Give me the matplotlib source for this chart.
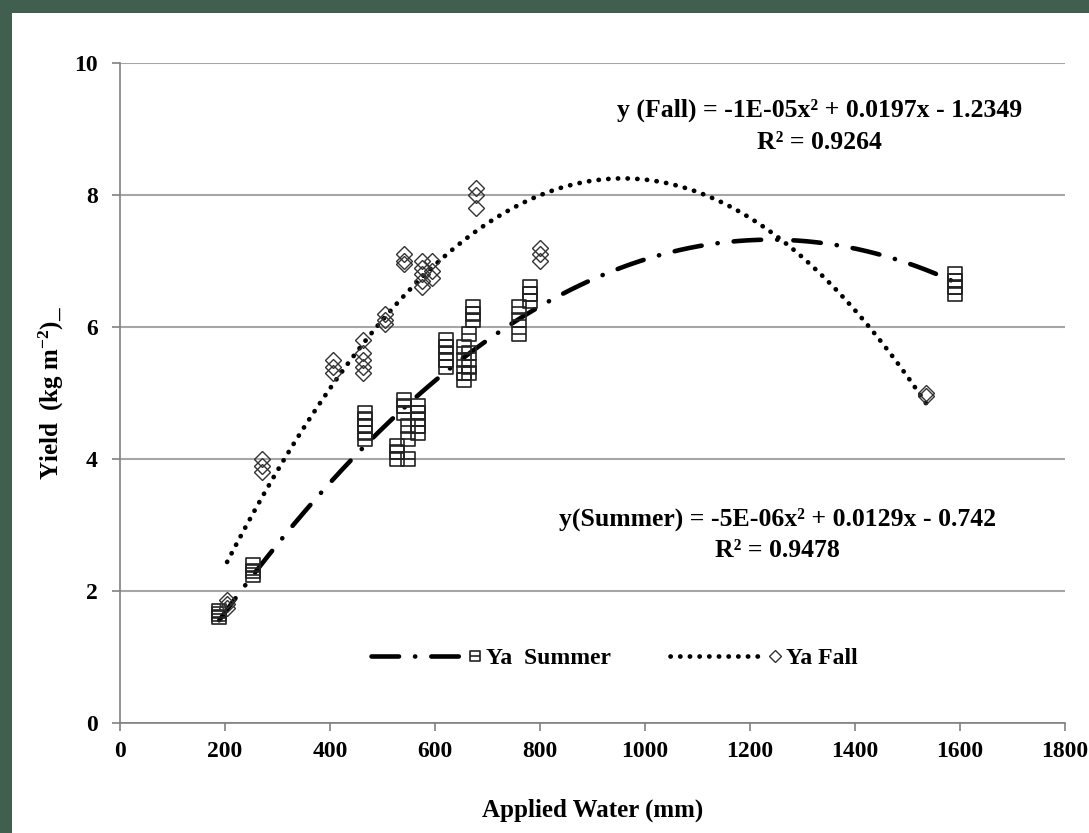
"""plot.py
Yield vs applied water, summer / fall with quadratic trendlines.
"""

import numpy as np
import matplotlib
matplotlib.use("Agg")
import matplotlib.pyplot as plt
from matplotlib.lines import Line2D
from matplotlib.path import Path
from matplotlib.patches import Rectangle
from matplotlib.legend_handler import HandlerBase

plt.rcParams["font.family"] = ["Liberation Serif", "DejaVu Serif"]
plt.rcParams["font.weight"] = "bold"
plt.rcParams["mathtext.fontset"] = "custom"
plt.rcParams["mathtext.rm"] = "Liberation Serif:bold"
plt.rcParams["mathtext.bf"] = "Liberation Serif:bold"
plt.rcParams["mathtext.it"] = "Liberation Serif:bold"

# Summer (Ya) observations
summer_x = [189, 189, 189, 253, 253, 253,
            467, 467, 467, 467, 467,
            528, 528, 528, 540, 540, 540, 548, 548, 548,
            567, 567, 567, 567, 567,
            620, 620, 620, 620, 620,
            655, 655, 655, 655, 665, 665, 665, 665,
            672, 672, 672, 760, 760, 760, 780, 780, 780,
            1590, 1590, 1590, 1590]
summer_y = [1.6, 1.65, 1.7, 2.25, 2.3, 2.4,
            4.3, 4.4, 4.5, 4.6, 4.7,
            4.0, 4.1, 4.2, 4.7, 4.8, 4.9, 4.0, 4.3, 4.5,
            4.4, 4.5, 4.6, 4.7, 4.8,
            5.4, 5.5, 5.6, 5.7, 5.8,
            5.2, 5.3, 5.5, 5.7, 5.3, 5.4, 5.6, 5.9,
            6.1, 6.2, 6.3, 5.9, 6.1, 6.3, 6.4, 6.5, 6.6,
            6.5, 6.6, 6.7, 6.8]

# Fall (Ya) observations
fall_x = [204, 204, 204, 270, 270, 270,
          406, 406, 406, 463, 463, 463, 463, 463,
          505, 505, 505, 540, 540, 540,
          575, 575, 575, 575, 575, 595, 595, 595,
          678, 678, 678, 800, 800, 800, 1535, 1535]
fall_y = [1.75, 1.8, 1.87, 3.8, 3.9, 4.0,
          5.3, 5.4, 5.5, 5.3, 5.4, 5.5, 5.6, 5.8,
          6.05, 6.1, 6.2, 6.95, 7.0, 7.1,
          6.6, 6.7, 6.8, 6.9, 7.0, 6.75, 6.85, 7.0,
          7.8, 8.0, 8.1, 7.0, 7.1, 7.2, 4.95, 5.0]

fall_eq = "y (Fall) = -1E-05x\u00b2 + 0.0197x - 1.2349"
fall_r2 = "R\u00b2 = 0.9264"
summer_eq = "y(Summer) = -5E-06x\u00b2 + 0.0129x - 0.742"
summer_r2 = "R\u00b2 = 0.9478"

x_ticks = list(range(0, 1801, 200))
y_ticks = list(range(0, 11, 2))

# square marker with a horizontal bar through it
sq_bar = Path([(-1, -1), (1, -1), (1, 1), (-1, 1), (-1, -1), (-1, 0), (1, 0)],
              [Path.MOVETO, Path.LINETO, Path.LINETO, Path.LINETO,
               Path.CLOSEPOLY, Path.MOVETO, Path.LINETO])


class LineThenMarker(HandlerBase):
    """Legend entry: trendline sample with the series marker at its right end."""

    def __init__(self, fit_line, pts, msize):
        super().__init__()
        self.fit_line = fit_line
        self.pts = pts
        self.msize = msize

    def create_artists(self, legend, orig_handle, xdescent, ydescent,
                       width, height, fontsize, trans):
        y = height / 2 - ydescent
        ln = Line2D([-xdescent, -xdescent + width * 0.86], [y, y])
        ln.update_from(self.fit_line)
        ln.set_marker("")
        ln.set_transform(trans)
        mk = Line2D([-xdescent + width * 0.94], [y])
        mk.update_from(self.pts)
        mk.set_linestyle("none")
        mk.set_markersize(self.msize)
        mk.set_transform(trans)
        return [ln, mk]


fig = plt.figure(figsize=(10.89, 8.33), dpi=100)
fig.patches.append(Rectangle((0, 0), 12 / 1089, 1, transform=fig.transFigure,
                             facecolor="#405f4f", edgecolor="none"))
fig.patches.append(Rectangle((0, 1 - 13 / 833), 1, 13 / 833, transform=fig.transFigure,
                             facecolor="#405f4f", edgecolor="none"))

ax = fig.add_axes([120 / 1089, 110 / 833, 945 / 1089, 660 / 833])

# quadratic trendlines fitted to the observations
sx = np.asarray(summer_x, float)
fx = np.asarray(fall_x, float)
cs = np.polyfit(sx, summer_y, 2)
cf = np.polyfit(fx, fall_y, 2)
xs = np.linspace(sx.min(), sx.max(), 300)
xf = np.linspace(fx.min(), fx.max(), 300)

summer_fit, = ax.plot(xs, np.polyval(cs, xs), color="black", lw=3.3,
                      linestyle=(0, (6, 3.5, 0.05, 3.5)), dash_capstyle="round", zorder=3)
fall_fit, = ax.plot(xf, np.polyval(cf, xf), color="black", lw=3.4,
                    linestyle=(0, (0.05, 2.0)), dash_capstyle="round", zorder=3)

summer_pts, = ax.plot(summer_x, summer_y, linestyle="none", marker=sq_bar,
                      markersize=10, markerfacecolor="none", markeredgecolor="#222222",
                      markeredgewidth=1.2, zorder=4)
fall_pts, = ax.plot(fall_x, fall_y, linestyle="none", marker="D",
                    markersize=8.5, markerfacecolor="none", markeredgecolor="#333333",
                    markeredgewidth=1.0, zorder=4)

ax.set_xlim(0, 1800)
ax.set_ylim(0, 10)
ax.set_xticks(x_ticks)
ax.set_yticks(y_ticks)
ax.tick_params(axis="both", labelsize=17, colors="#808080", labelcolor="black",
               length=6, width=1.2, direction="out")
for lab in ax.get_xticklabels() + ax.get_yticklabels():
    lab.set_fontweight("bold")
ax.tick_params(axis="x", pad=7)
ax.tick_params(axis="y", pad=10)
ax.yaxis.grid(True, color="#a6a6a6", lw=1.5)
ax.set_axisbelow(True)
for s in ("top", "right"):
    ax.spines[s].set_visible(False)
for s in ("left", "bottom"):
    ax.spines[s].set_color("#808080")
    ax.spines[s].set_linewidth(1.2)

ax.set_xlabel("Applied Water (mm)", fontsize=18, fontweight="bold", labelpad=26)
ax.set_ylabel("Yield  (kg m$^{-2}$)_", fontsize=18, fontweight="bold", labelpad=6)

ax.text(1333, 9.29, fall_eq, ha="center", va="center", fontsize=18.5, fontweight="bold")
ax.text(1333, 8.79, fall_r2, ha="center", va="center", fontsize=18.5, fontweight="bold")
ax.text(1253, 3.08, summer_eq, ha="center", va="center", fontsize=18.5, fontweight="bold")
ax.text(1253, 2.62, summer_r2, ha="center", va="center", fontsize=18.5, fontweight="bold")

h_summer = LineThenMarker(summer_fit, summer_pts, 6.5)
h_fall = LineThenMarker(fall_fit, fall_pts, 6.5)
ax.legend([summer_pts, fall_pts], ["Ya  Summer", "Ya Fall"],
          handler_map={summer_pts: h_summer, fall_pts: h_fall},
          loc="center", bbox_to_anchor=(0.523, 0.098), ncol=2, frameon=False,
          handlelength=4.7, handletextpad=0.2, columnspacing=2.5,
          prop={"size": 17, "weight": "bold"})

fig.savefig("out.png", dpi=100, facecolor="white")
